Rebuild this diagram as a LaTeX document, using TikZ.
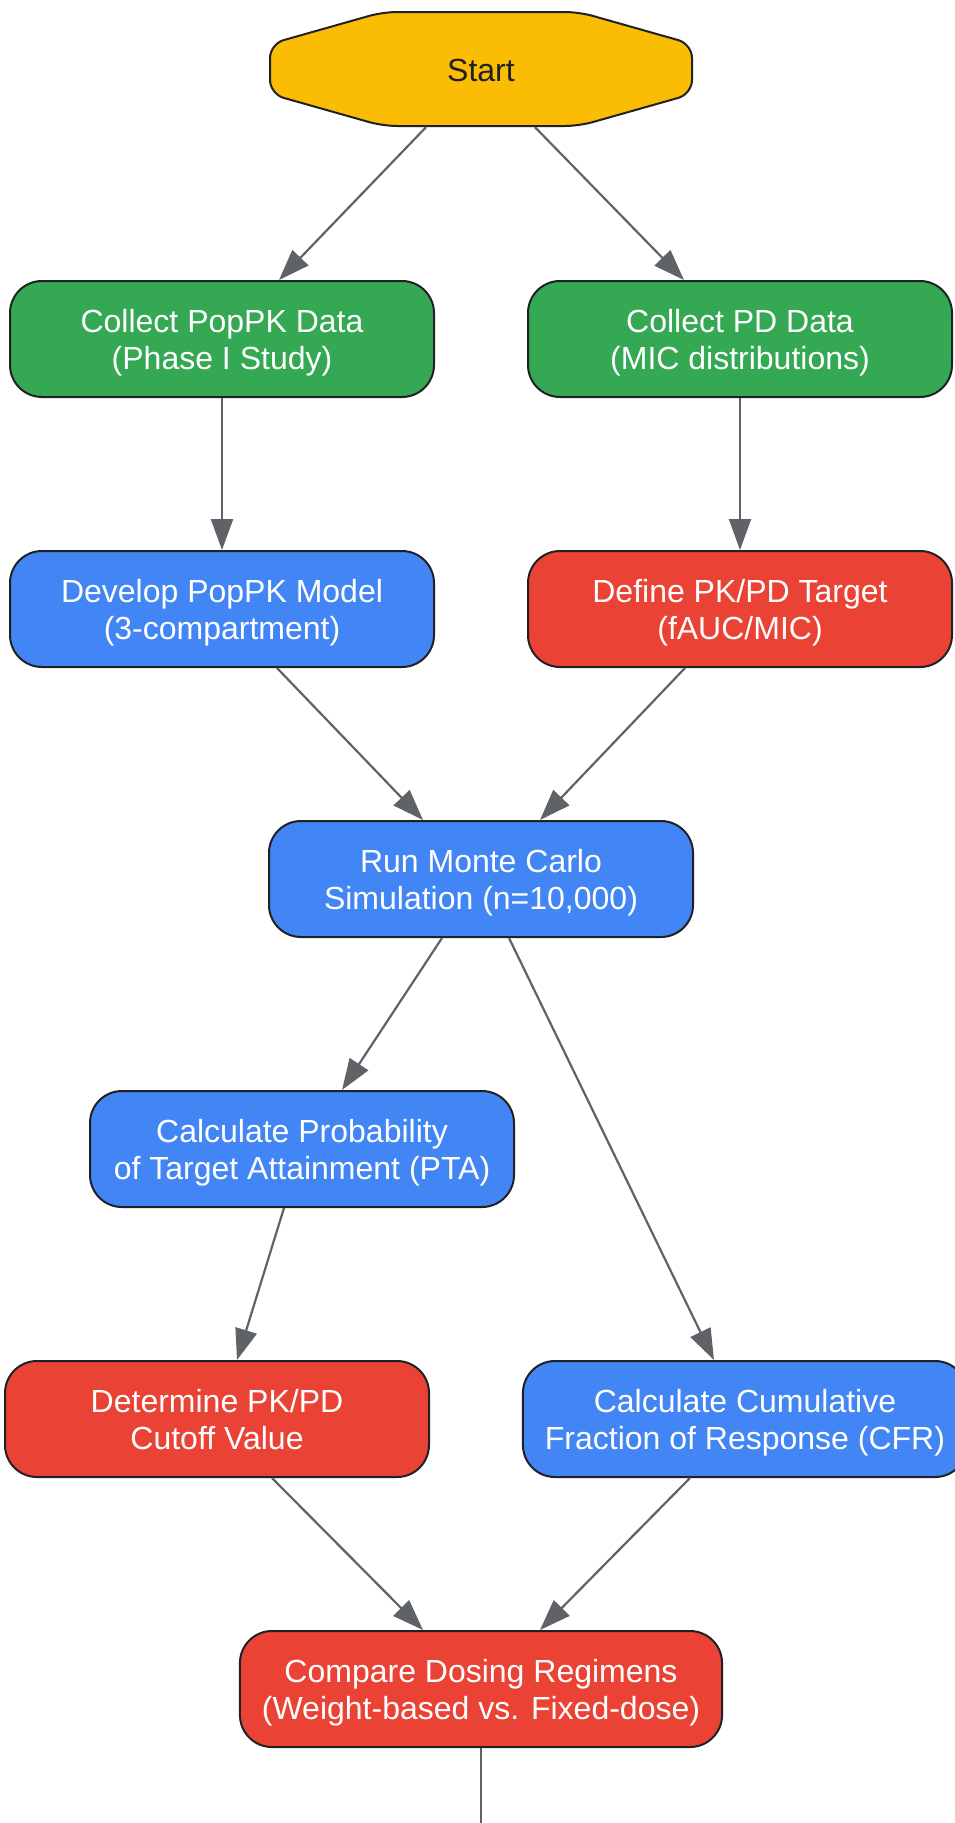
\documentclass[tikz,border=0pt]{standalone}
\usepackage{fontspec}
\setmainfont{Liberation Sans}
\usetikzlibrary{arrows.meta}

\definecolor{gyellow}{HTML}{FBBC04}
\definecolor{ggreen}{HTML}{34A853}
\definecolor{gblue}{HTML}{4285F4}
\definecolor{gred}{HTML}{EA4335}
\definecolor{edgecol}{HTML}{202124}
\definecolor{flowcol}{HTML}{5F6368}
\newcommand{\nstrut}{\rule[-7pt]{0pt}{37pt}}

\begin{document}
\begin{tikzpicture}[x=1pt, y=-1pt,
    box/.style={draw=edgecol, line width=2pt, rounded corners=32pt,
        minimum width=424pt, minimum height=116pt, inner xsep=22pt,
        align=center, text=white, font=\fontsize{32}{37}\selectfont},
    flow/.style={draw=flowcol, line width=2.2pt,
        -{Triangle[length=31pt, width=22pt]}}]
        % --- 画像の範囲 ---
        \useasboundingbox (0,0) rectangle (955,1823);

        % --- 開始ノード ---
        \filldraw[fill=gyellow, draw=edgecol, line width=2pt, rounded corners=14pt]
            (270,44) -- (383,12) -- (579,12) -- (692,44) -- (692,94)
            -- (579,126) -- (383,126) -- (270,94) -- cycle;
        \node[minimum width=422pt, minimum height=114pt, text=edgecol,
            font=\fontsize{32}{37}\selectfont] (start) at (481,70) {Start};

        % --- 処理ノード ---
        \node[box, fill=ggreen] (popk) at (222,339) {\nstrut Collect PopPK Data\\(Phase I Study)\nstrut};
        \node[box, fill=ggreen] (pd) at (740,339) {\nstrut Collect PD Data\\(MIC distributions)\nstrut};
        \node[box, fill=gblue] (model) at (222,609) {\nstrut Develop PopPK Model\\(3-compartment)\nstrut};
        \node[box, fill=gred] (target) at (740,609) {\nstrut Define PK/PD Target\\(fAUC/MIC)\nstrut};
        \node[box, fill=gblue] (mcs) at (481,879) {\nstrut Run Monte Carlo\\Simulation (n=10,000)\nstrut};
        \node[box, fill=gblue] (pta) at (302,1149) {\nstrut Calculate Probability\\of Target Attainment (PTA)\nstrut};
        \node[box, fill=gred] (cutoff) at (217,1419) {\nstrut Determine PK/PD\\Cutoff Value\nstrut};
        \node[box, fill=gblue] (cfr) at (745,1419) {\nstrut Calculate Cumulative\\Fraction of Response (CFR)\nstrut};
        \node[box, fill=gred] (compare) at (481,1689) {\nstrut Compare Dosing Regimens\\(Weight-based vs. Fixed-dose)\nstrut};
        \coordinate (tail) at (481,1823);

        % --- 矢印 ---
        \foreach \a/\sa/\b/\sb in {start/-55/popk/57, start/54/pd/-56,
            popk/0/model/0, pd/0/target/0,
            model/55/mcs/-58, target/-55/mcs/59,
            mcs/-39/pta/40, mcs/28/cfr/-31,
            pta/-18/cutoff/20,
            cutoff/55/compare/-58, cfr/-55/compare/59} {
            \draw[flow] ([xshift=\sa pt]\a.south) -- ([xshift=\sb pt]\b.north);
        }
        \draw[draw=flowcol, line width=2.2pt] (compare.south) -- (tail);

    \end{tikzpicture}
\end{document}
